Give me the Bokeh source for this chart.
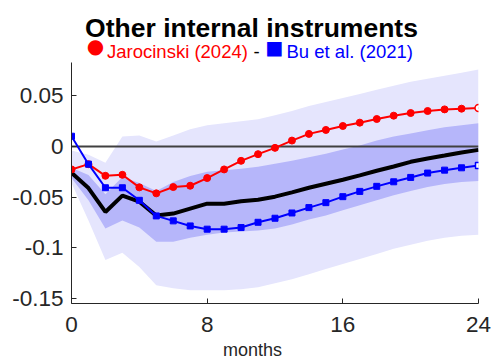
from bokeh.plotting import figure
from bokeh.models import Range1d, FixedTicker
from bokeh.core.properties import value
from bokeh.embed import file_html
from bokeh.resources import INLINE

months = list(range(25))

jarocinski = [-0.0226, -0.0174, -0.0289, -0.0279, -0.0403, -0.0462, -0.0400, -0.0387, -0.0311,
              -0.0226, -0.0141, -0.0075, -0.0013, 0.0059, 0.0125, 0.0164, 0.0203, 0.0236,
              0.0272, 0.0305, 0.0331, 0.0351, 0.0367, 0.0374, 0.0380]

bu = [0.0102, -0.0174, -0.0407, -0.0407, -0.0531, -0.0685, -0.0734, -0.0784, -0.0816,
      -0.0816, -0.0800, -0.0748, -0.0708, -0.0656, -0.0603, -0.0554, -0.0495, -0.0443,
      -0.0393, -0.0348, -0.0305, -0.0262, -0.0233, -0.0210, -0.0187]

median = [-0.0259, -0.0410, -0.0646, -0.0485, -0.0544, -0.0682, -0.0662, -0.0613, -0.0564,
          -0.0564, -0.0541, -0.0525, -0.0495, -0.0452, -0.0407, -0.0367, -0.0328, -0.0285,
          -0.0239, -0.0197, -0.0151, -0.0118, -0.0089, -0.0059, -0.0033]

light_hi = [-0.004, -0.008, -0.016, 0.010, 0.011, 0.005, 0.011, 0.017, 0.021, 0.023, 0.025,
            0.027, 0.031, 0.035, 0.040, 0.044, 0.048, 0.052, 0.056, 0.060, 0.064, 0.067,
            0.070, 0.073, 0.076]
light_lo = [-0.036, -0.073, -0.112, -0.105, -0.119, -0.137, -0.140, -0.142, -0.142, -0.142,
            -0.141, -0.139, -0.135, -0.131, -0.126, -0.121, -0.116, -0.111, -0.106, -0.101,
            -0.097, -0.093, -0.090, -0.088, -0.087]
dark_hi = [-0.021, -0.028, -0.047, -0.030, -0.036, -0.044, -0.035, -0.029, -0.025, -0.0235,
           -0.022, -0.020, -0.017, -0.014, -0.0105, -0.007, -0.003, 0.001, 0.006, 0.010,
           0.013, 0.016, 0.019, 0.021, 0.023]
dark_lo = [-0.031, -0.053, -0.081, -0.073, -0.080, -0.094, -0.094, -0.090, -0.087, -0.085,
           -0.084, -0.083, -0.081, -0.077, -0.072, -0.068, -0.063, -0.058, -0.053, -0.048,
           -0.044, -0.040, -0.037, -0.035, -0.034]

x_ticks = [0, 8, 16, 24]
y_ticks = [-0.15, -0.1, -0.05, 0, 0.05]
y_tick_labels = ["-0.15", "-0.1", "-0.05", "0", "0.05"]

title = "Other internal instruments"
series_names = ["Jarocinski (2024)", "Bu et al. (2021)"]
x_label = "months"

FONT = "Liberation Sans"
AX = "#262626"

Y_LO, Y_HI = -0.155, 0.083          # visible data window of the axes box
X_LO, X_HI = 0, 24
PX_LEFT, PX_RIGHT, PX_TOP, PX_BOTTOM = 71, 478, 62, 303
SY = (PX_BOTTOM - PX_TOP) / (Y_HI - Y_LO)
SX = (PX_RIGHT - PX_LEFT) / (X_HI - X_LO)

# frame extends to the top of the canvas so the heading can be drawn inside it
p = figure(width=492, height=362, output_backend="svg", toolbar_location=None, title=None,
           x_range=Range1d(X_LO, X_HI), y_range=Range1d(Y_LO, Y_HI + PX_TOP / SY),
           min_border_left=PX_LEFT, min_border_right=492 - PX_RIGHT, min_border_top=0,
           min_border_bottom=362 - PX_BOTTOM)
p.outline_line_color = None
p.xgrid.visible = False
p.ygrid.visible = False
p.background_fill_color = "white"

def cx(px):
    return X_LO + (px - PX_LEFT) / SX

def cy(py):
    return Y_HI + (PX_TOP - py) / SY

p.varea(x=months, y1=light_lo, y2=light_hi, fill_color="#e5e5fd")
p.varea(x=months, y1=dark_lo, y2=dark_hi, fill_color="#b6b6fa")
p.hspan(y=[0], line_color="#404040", line_width=2)

p.line(months, median, line_color="black", line_width=4)

p.line(months, jarocinski, line_color="#ff0000", line_width=2)
p.scatter(months[:-1], jarocinski[:-1], marker="circle", size=7,
          fill_color="#ff0000", line_color="#ff0000")
p.scatter(months[-1:], jarocinski[-1:], marker="circle", size=7,
          fill_color="white", line_color="#ff0000", line_width=1.5)

p.line(months, bu, line_color="#0000ff", line_width=2)
p.scatter(months[:-1], bu[:-1], marker="square", size=6,
          fill_color="#0000ff", line_color="#0000ff")
p.scatter(months[-1:], bu[-1:], marker="square", size=6,
          fill_color="white", line_color="#0000ff", line_width=1.5)

for ax in (p.xaxis[0], p.yaxis[0]):
    ax.axis_line_color = AX
    ax.axis_line_width = 1
    ax.major_tick_line_color = AX
    ax.major_tick_in = 5
    ax.major_tick_out = 0
    ax.minor_tick_line_color = None
    ax.major_label_text_font = FONT
    ax.major_label_text_font_size = "22.5px"
    ax.major_label_text_color = AX

p.yaxis[0].bounds = (Y_LO, Y_HI)
p.yaxis[0].ticker = FixedTicker(ticks=y_ticks)
p.yaxis[0].major_label_overrides = {t: s for t, s in zip(y_ticks, y_tick_labels)}
p.yaxis[0].major_label_standoff = 8

p.xaxis[0].ticker = FixedTicker(ticks=x_ticks)
p.xaxis[0].major_label_standoff = 13
p.xaxis[0].axis_label = x_label + "\u00a0" * 9
p.xaxis[0].axis_label_text_font = FONT
p.xaxis[0].axis_label_text_font_size = "18px"
p.xaxis[0].axis_label_text_font_style = "normal"
p.xaxis[0].axis_label_text_color = AX
p.xaxis[0].axis_label_standoff = 5

def txt(s, px, py, size, color, align="left", bold=False, font=FONT, baseline="alphabetic"):
    p.text(x=[cx(px)], y=[cy(py)], text=[s], text_font=value(font), text_font_size=size,
           text_color=color, text_align=align, text_baseline=baseline,
           text_font_style="bold" if bold else "normal")

txt(title, 251, 27, "26.5px", "black", align="center", bold=True)
txt("\u25cf", 95, 45.5, "20px", "#ff0000", align="center", font="DejaVu Sans", baseline="middle")
txt(series_names[0], 106.5, 50.5, "18.5px", "#ff0000")
txt("-", 253, 50.5, "18.5px", "black")
txt("\u25a0", 274, 46, "19px", "#0000ff", align="center", font="DejaVu Sans", baseline="middle")
txt(series_names[1], 286, 50.5, "18.5px", "#0000ff")

open("out.html", "w").write(file_html(p, INLINE))
